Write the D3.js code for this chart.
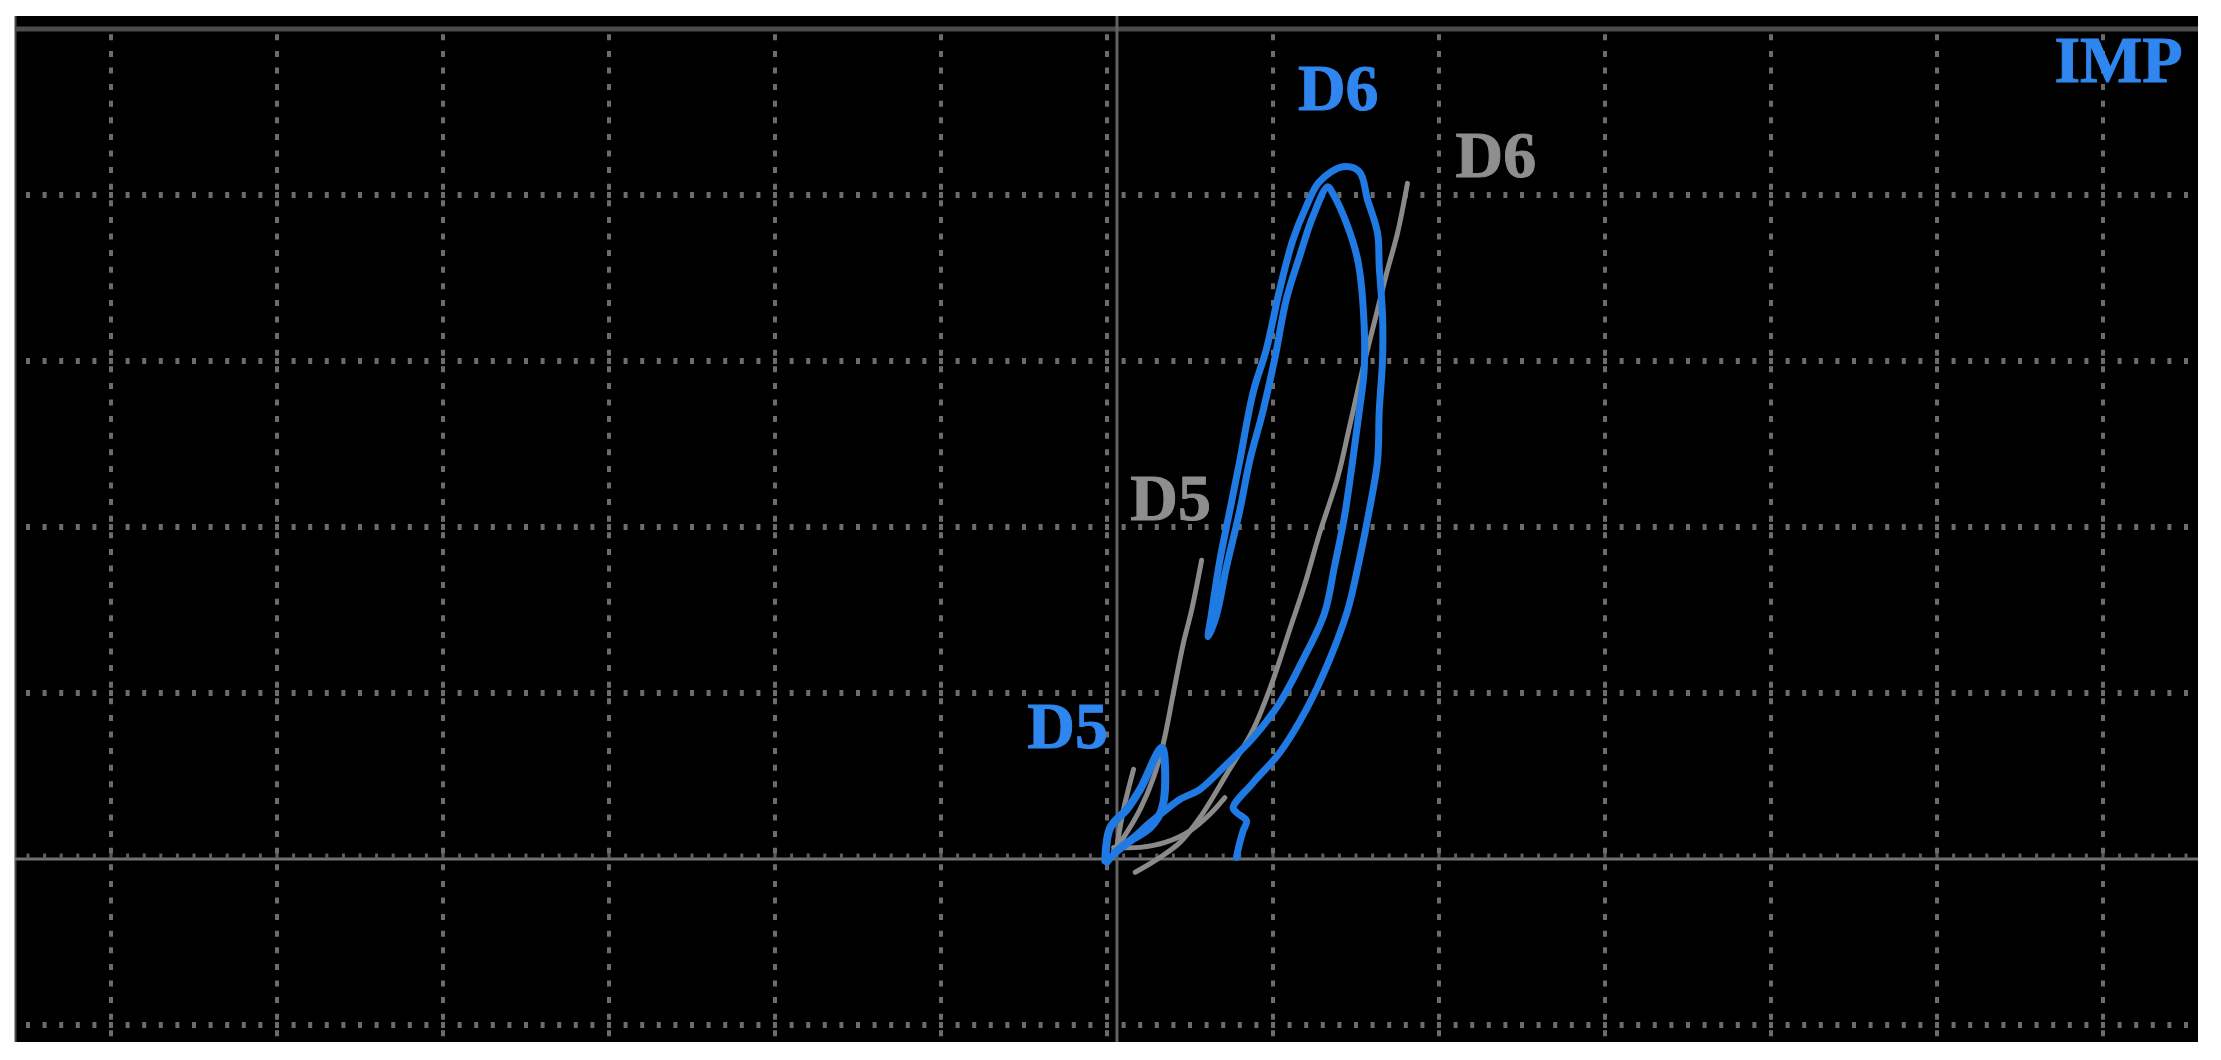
<!DOCTYPE html>
<html>
<head>
<meta charset="utf-8">
<script src="https://d3js.org/d3.v7.min.js"></script>
<style>
  body { margin: 0; padding: 0; background: #fff; }
  svg { display: block; }
  .lbl { font-family: "Liberation Serif", "Times New Roman", Times, serif; font-weight: 700; }
</style>
</head>
<body>
<script>
// grid divisions (x: 12 divisions, y: 6 divisions)
var xGrid = [-6, -5, -4, -3, -2, -1, 0, 1, 2, 3, 4, 5, 6];
var yGrid = [-1, 1, 2, 3, 4];
var yAxisAt = 0.06;   // solid vertical axis sits a little right of grid line 0

// blue trace, D5 -> D6 (x, y in divisions)
var blueD6 = [
  [0.78, 0.01], [0.80, 0.10], [0.82, 0.17], [0.84, 0.23], [0.78, 0.28], [0.76, 0.31],
  [0.88, 0.46], [1.04, 0.64], [1.20, 0.90], [1.34, 1.20], [1.45, 1.50], [1.52, 1.80],
  [1.58, 2.10], [1.63, 2.40], [1.64, 2.70], [1.66, 3.01], [1.66, 3.27], [1.64, 3.57],
  [1.63, 3.77], [1.57, 3.97], [1.52, 4.14], [1.42, 4.17], [1.28, 4.08], [1.20, 3.93],
  [1.12, 3.73], [1.04, 3.43], [0.96, 3.07], [0.88, 2.81], [0.80, 2.40], [0.74, 2.10],
  [0.68, 1.80], [0.63, 1.48], [0.61, 1.34], [0.66, 1.47], [0.72, 1.76], [0.80, 2.10],
  [0.86, 2.40], [0.94, 2.70], [1.01, 3.01], [1.08, 3.37], [1.16, 3.63], [1.24, 3.87],
  [1.33, 4.05], [1.36, 4.01], [1.45, 3.81], [1.51, 3.61], [1.54, 3.37], [1.55, 2.96],
  [1.52, 2.70], [1.48, 2.40], [1.43, 2.06], [1.37, 1.76], [1.31, 1.48], [1.18, 1.20],
  [1.04, 0.94], [0.88, 0.73], [0.70, 0.55], [0.56, 0.42], [0.44, 0.36], [0.36, 0.30],
  [0.26, 0.22], [0.16, 0.13], [0.06, 0.05], [0.00, -0.02]
];
var blueD5 = [
  [-0.01, -0.01], [0.02, 0.19], [0.12, 0.30], [0.20, 0.42], [0.33, 0.67], [0.35, 0.54],
  [0.33, 0.30], [0.26, 0.19], [0.14, 0.11], [0.05, 0.04]
];

// gray trace
var grayD5 = [
  [0.04, 0.05], [0.10, 0.13], [0.20, 0.30], [0.28, 0.49], [0.34, 0.70], [0.40, 1.00],
  [0.46, 1.30], [0.51, 1.50], [0.57, 1.80]
];
var grayStub = [[0.06, 0.08], [0.10, 0.30], [0.16, 0.54]];
var grayD6 = [
  [0.17, -0.08], [0.32, 0.01], [0.44, 0.10], [0.56, 0.25], [0.72, 0.51], [0.88, 0.78],
  [0.99, 1.05], [1.10, 1.38], [1.19, 1.65], [1.28, 1.96], [1.39, 2.30], [1.46, 2.60],
  [1.54, 2.95], [1.63, 3.31], [1.69, 3.55], [1.75, 3.77], [1.81, 4.07]
];
var grayD6Start = [
  [0.04, 0.07], [0.20, 0.07], [0.35, 0.10], [0.50, 0.17], [0.62, 0.27], [0.71, 0.37]
];

// label text and anchor (divisions)
var labels = [
  { text: "D6", series: "blue", x: 1.15, y: 4.51, anchor: "start" },
  { text: "D6", series: "gray", x: 2.10, y: 4.11, anchor: "start" },
  { text: "D5", series: "gray", x: 0.14, y: 2.04, anchor: "start" },
  { text: "D5", series: "blue", x: -0.48, y: 0.67, anchor: "start" },
  { text: "IMP", series: "blue", x: 6.48, y: 4.68, anchor: "end" }
];

var W = 2221, H = 1060;
var colors = { blue: "#1f7ae3", gray: "#8a8a8a" };
var textColors = { blue: "#2f86ee", gray: "#8e8e8e" };

var x = d3.scaleLinear().domain([-6, 6]).range([111, 2103]);
var y = d3.scaleLinear().domain([-1, 5]).range([1025, 29]);
var minor = (x(1) - x(0)) / 10;

var svg = d3.select("body").append("svg")
  .attr("width", W)
  .attr("height", H);

// screen
svg.append("rect")
  .attr("x", 15).attr("y", 16)
  .attr("width", 2198 - 15).attr("height", 1042 - 16)
  .attr("fill", "#000");

svg.append("line")
  .attr("x1", 15.5).attr("x2", 15.5)
  .attr("y1", 16).attr("y2", 1042)
  .attr("stroke", "#4a4a4a").attr("stroke-width", 2);

// dotted grid
svg.append("g").selectAll("line")
  .data(xGrid)
  .enter().append("line")
  .attr("x1", d => x(d)).attr("x2", d => x(d))
  .attr("y1", y(5)).attr("y2", 1042)
  .attr("stroke", "#6c6c6c")
  .attr("stroke-width", 4)
  .attr("stroke-dasharray", "6," + (minor - 6))
  .attr("stroke-dashoffset", -minor / 2 + 3);

svg.append("g").selectAll("line")
  .data(yGrid)
  .enter().append("line")
  .attr("x1", 15).attr("x2", 2198)
  .attr("y1", d => y(d)).attr("y2", d => y(d))
  .attr("stroke", "#6c6c6c")
  .attr("stroke-width", 6)
  .attr("stroke-dasharray", "4," + (minor - 4))
  .attr("stroke-dashoffset", -((x(-6) - 15) % minor) + 2);

// top border line
svg.append("line")
  .attr("x1", 15).attr("x2", 2198)
  .attr("y1", y(5)).attr("y2", y(5))
  .attr("stroke", "#4c4c4c").attr("stroke-width", 5);

// horizontal axis with minor ticks
svg.append("line")
  .attr("x1", 15).attr("x2", 2198)
  .attr("y1", y(0)).attr("y2", y(0))
  .attr("stroke", "#707070").attr("stroke-width", 3);
svg.append("line")
  .attr("x1", 15).attr("x2", 2198)
  .attr("y1", y(0) - 3).attr("y2", y(0) - 3)
  .attr("stroke", "#5e5e5e").attr("stroke-width", 5)
  .attr("stroke-dasharray", "3," + (minor - 3))
  .attr("stroke-dashoffset", -((x(-6) - 15) % minor) + 1.5);

// vertical axis
svg.append("line")
  .attr("x1", x(yAxisAt)).attr("x2", x(yAxisAt))
  .attr("y1", 16).attr("y2", 1042)
  .attr("stroke", "#626262").attr("stroke-width", 3);

// traces
var line = d3.line()
  .x(d => x(d[0]))
  .y(d => y(d[1]))
  .curve(d3.curveCatmullRom.alpha(0.5));

var traces = [
  { pts: grayD6, series: "gray", w: 5 },
  { pts: grayD6Start, series: "gray", w: 5 },
  { pts: grayD5, series: "gray", w: 5 },
  { pts: grayStub, series: "gray", w: 5 },
  { pts: blueD6, series: "blue", w: 7 },
  { pts: blueD5, series: "blue", w: 8 }
];

svg.append("g").selectAll("path")
  .data(traces)
  .enter().append("path")
  .attr("d", d => line(d.pts))
  .attr("fill", "none")
  .attr("stroke", d => colors[d.series])
  .attr("stroke-width", d => d.w)
  .attr("stroke-linejoin", "round")
  .attr("stroke-linecap", "round");

// labels
svg.append("g").selectAll("text")
  .data(labels)
  .enter().append("text")
  .attr("class", "lbl")
  .attr("x", d => x(d.x))
  .attr("y", d => y(d.y))
  .attr("text-anchor", d => d.anchor)
  .attr("fill", d => textColors[d.series])
  .attr("stroke", d => textColors[d.series])
  .attr("stroke-width", 1)
  .style("font-size", "66px")
  .text(d => d.text);
</script>
</body>
</html>
